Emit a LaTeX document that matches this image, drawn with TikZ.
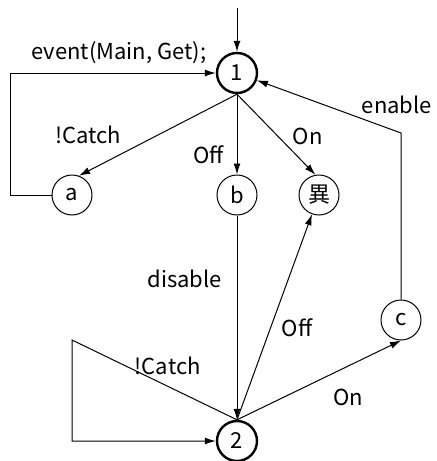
\documentclass[tikz,border=0pt]{standalone}
\usepackage{fontspec}
\setmainfont{Noto Sans CJK JP}
\usetikzlibrary{arrows.meta}

\tikzset{
  st/.style={circle, draw, minimum size=20pt, inner sep=0pt, line width=0.5pt},
  bigst/.style={st, line width=1.2pt},
  tr/.style={-{Latex[length=5.5pt,width=3.5pt]}, line width=0.5pt},
}

\begin{document}
\begin{tikzpicture}[x=0.5pt, y=-0.5pt, font=\fontsize{11}{13}\selectfont]
  \useasboundingbox (0,0) rectangle (437,461);
  \node[bigst] (S1) at (237,73) {1};
  \node[st] (A) at (72,195) {a};
  \node[st] (B) at (237,195) {b};
  \node[st] (I) at (319,195) {異};
  \node[st] (C) at (401,320) {c};
  \node[bigst] (S2) at (237,441) {2};
  \coordinate (init) at (237,8);
  \draw[tr] (init) -- (S1);
  \draw[tr] (A.west) -- (10,195) -- (10,73) -- node[midway, above=1pt, xshift=3pt] {event(Main, Get);} (S1.west);
  \draw[tr] (S1.south) -- node[midway, left=15pt] {!Catch} (A.70);
  \draw[tr] (S1.south) -- node[pos=0.75, left=3pt] {Off} (B.north);
  \draw[tr] (S1.south) -- node[pos=0.52, right=4pt] {On} (I.100);
  \draw[tr] (B.south) -- node[pos=0.31, left=4pt] {disable} (S2.north);
  \draw[tr] (S2.north) -- node[pos=0.45, right=2pt] {Off} (I);
  \draw[tr] (S2.north) -- node[pos=0.68, below=8pt] {On} (C.south);
  \draw[tr] (C.north) -- (401,133) node[above=6pt, xshift=-2pt] {enable} -- (S1);
  \draw[tr] (S2.north) -- node[pos=0.42, above=2pt] {!Catch} (72,340) -- (72,441) -- (S2.west);
\end{tikzpicture}
\end{document}
